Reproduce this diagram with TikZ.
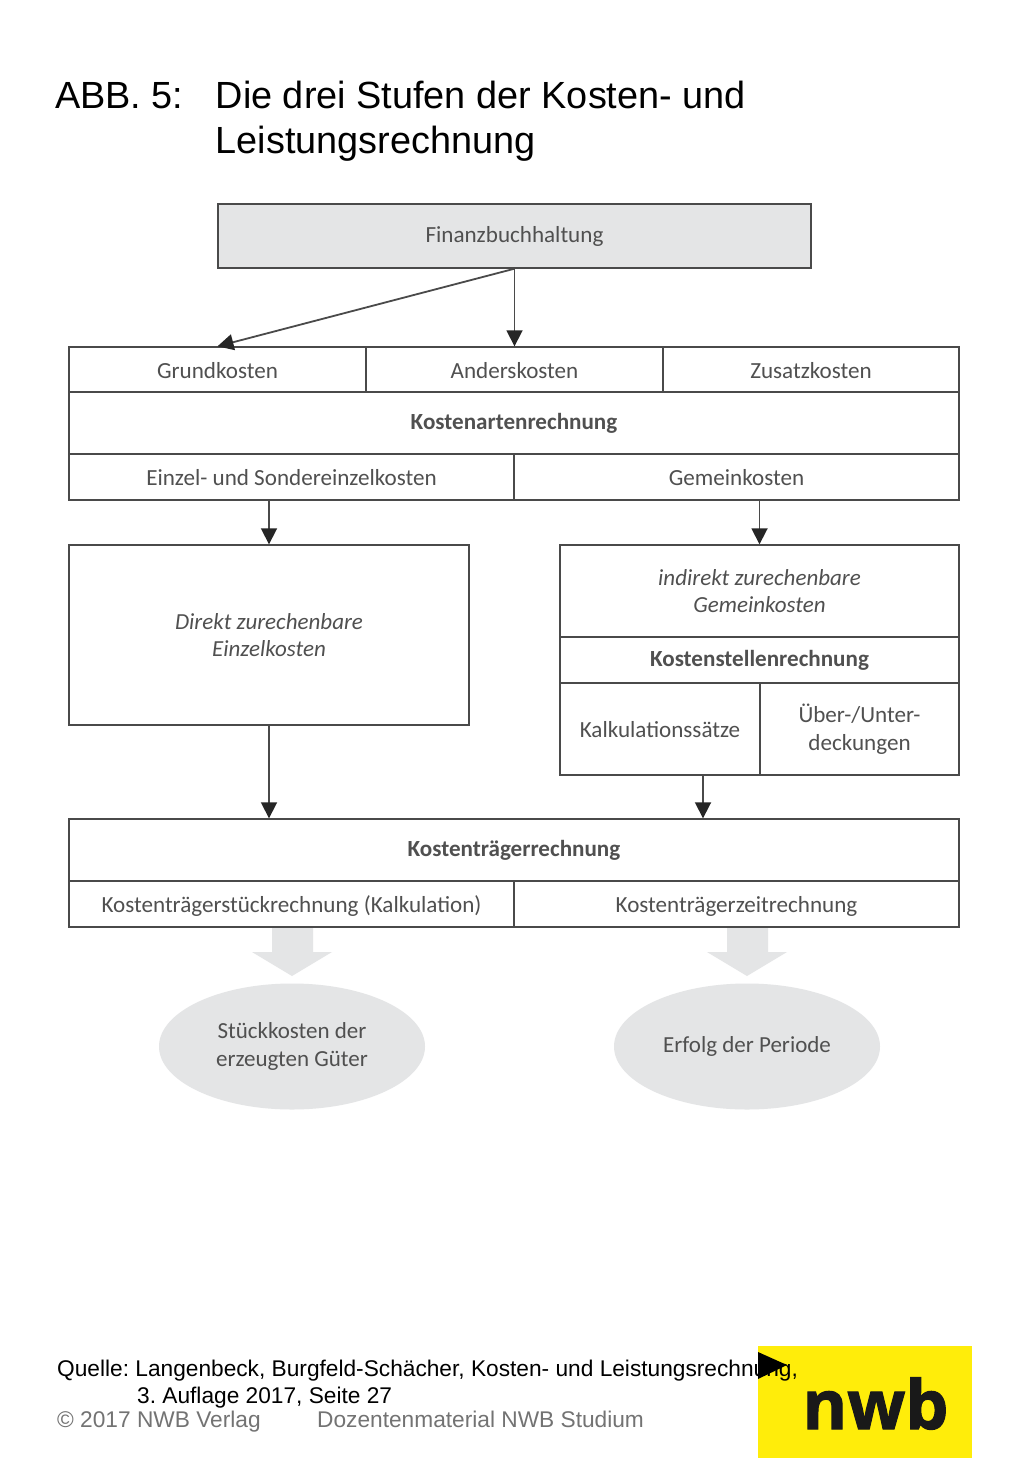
\documentclass[tikz,border=0pt]{standalone}
\usepackage{fontspec}
\setmainfont{Carlito}
\newfontfamily\arialf{Liberation Sans}
\newfontfamily\logof[BoldFeatures={FakeBold=1.5}]{Open Sans}
\usetikzlibrary{arrows.meta,shapes.geometric}
\definecolor{linegray}{HTML}{4A4A4A}
\definecolor{txtgray}{HTML}{505050}
\definecolor{fillgray}{HTML}{E4E5E6}
\definecolor{nwbyellow}{HTML}{FFED0A}
\tikzset{
  bx/.style={draw=linegray,line width=1.4pt,rectangle,inner sep=0pt,align=center,text=txtgray,font=\fontsize{23.1}{27.5}\selectfont},
  grayfill/.style={fill=fillgray},
  strong/.style={font=\fontsize{23.1}{27.5}\selectfont\bfseries},
  slant/.style={font=\fontsize{23}{27.5}\selectfont\itshape},
  arr/.style={draw=linegray,line width=1.8pt,-{Triangle[length=16pt,width=16pt,color=black!85]}},
  blockarrow/.style={fill=fillgray,draw=none},
  oval/.style={ellipse,fill=fillgray,inner sep=0pt,minimum width=266pt,minimum height=126pt,align=center,text=txtgray,font=\fontsize{23}{27.5}\selectfont},
  ttl/.style={anchor=base west,inner sep=0pt,font=\arialf\fontsize{37.85}{44}\selectfont},
  foot/.style={anchor=base west,inner sep=0pt,font=\arialf\frenchspacing\fontsize{22.7}{27}\selectfont},
}
\newcommand{\bxat}[7][]{\node[bx,#1,minimum width=#4pt-#3pt,minimum height=#6pt-#5pt] (#2) at ({(#3+#4)/2},{(#5+#6)/2}) {#7};}
\newcommand{\dn}[2][1]{\raisebox{-#1pt}[\height][\depth]{#2}}
\begin{document}
\begin{tikzpicture}[x=1pt,y=-1pt]
\useasboundingbox (0,0) rectangle (1024,1479);
\fill[white] (0,0) rectangle (1024,1479);
% title
\node[ttl] (t1) at (55,108.5) {ABB. 5:};
\node[ttl] (t2) at (215.5,108.5) {Die drei Stufen der Kosten- und};
\node[ttl] (t3) at (215.5,154) {Leistungsrechnung};
% boxes
\bxat[grayfill]{fin}{218}{811}{204}{268}{Finanzbuchhaltung}
\bxat{grund}{69}{366}{347}{392}{\dn{Grundkosten}}
\bxat{ander}{366}{663}{347}{392}{\dn{Anderskosten}}
\bxat{zusatz}{663}{959}{347}{392}{\dn{Zusatzkosten}}
\bxat[strong]{kar}{69}{959}{392}{454}{Kostenartenrechnung}
\bxat{einzel}{69}{514}{454}{500}{\dn{Einzel- und Sondereinzelkosten}}
\bxat{gemein}{514}{959}{454}{500}{\dn{Gemeinkosten}}
\bxat[slant]{direkt}{69}{469}{545}{725}{Direkt zurechenbare\\Einzelkosten}
\bxat[slant]{indirekt}{560}{959}{545}{637}{indirekt zurechenbare\\Gemeinkosten}
\bxat[strong]{ksr}{560}{959}{637}{683}{Kostenstellenrechnung}
\bxat{kalk}{560}{760}{683}{775}{\dn{Kalkulationssätze}}
\bxat{ueber}{760}{959}{683}{775}{Über-/Unter-\\deckungen}
\bxat[strong]{ktr}{69}{959}{819}{881}{Kostenträgerrechnung}
\bxat{kts}{69}{514}{881}{927}{\dn[2]{Kostenträgerstückrechnung (Kalkulation)}}
\bxat{ktz}{514}{959}{881}{927}{\dn[2]{Kostenträgerzeitrechnung}}
% connectors
\draw[arr] (fin.south) -- (grund.north);
\draw[arr] (fin.south) -- (ander.north);
\draw[arr] (direkt.north |- einzel.south) -- (direkt.north);
\draw[arr] (indirekt.north |- gemein.south) -- (indirekt.north);
\draw[arr] (direkt.south) -- (direkt.south |- ktr.north);
\coordinate (kfoot) at (703,775);
\draw[arr] (kfoot) -- (kfoot |- ktr.north);
% block arrows and results
\fill[blockarrow] (272,928) -- (313,928) -- (313,952) -- (332,952) -- (292,976) -- (252,952) -- (272,952) -- cycle;
\fill[blockarrow] (727,928) -- (768,928) -- (768,952) -- (787,952) -- (747,976) -- (707,952) -- (727,952) -- cycle;
\node[oval] (stueck) at (292,1046.5) {Stückkosten der\\erzeugten Güter};
\node[oval] (erfolg) at (747,1046.5) {Erfolg der Periode};
% logo
\fill[nwbyellow] (758,1346) rectangle (972,1458);
\node[anchor=base,inner sep=0pt,font=\logof\bfseries\fontsize{68}{68}\selectfont,text=black!90] (nwb) at (875.5,1429) {nwb};
% footer
\node[foot] (q1) at (57,1376) {Quelle: Langenbeck, Burgfeld-Schächer, Kosten- und Leistungsrechnung,};
\node[foot] (q2) at (137,1403) {3. Auflage 2017, Seite 27};
\node[foot,text=black!55] (c1) at (57,1427) {© 2017 NWB Verlag};
\node[foot,text=black!55] (c2) at (317,1427) {Dozentenmaterial NWB Studium};
\fill[black] (758,1352) -- (787,1365) -- (758,1379) -- cycle;
\end{tikzpicture}
\end{document}
